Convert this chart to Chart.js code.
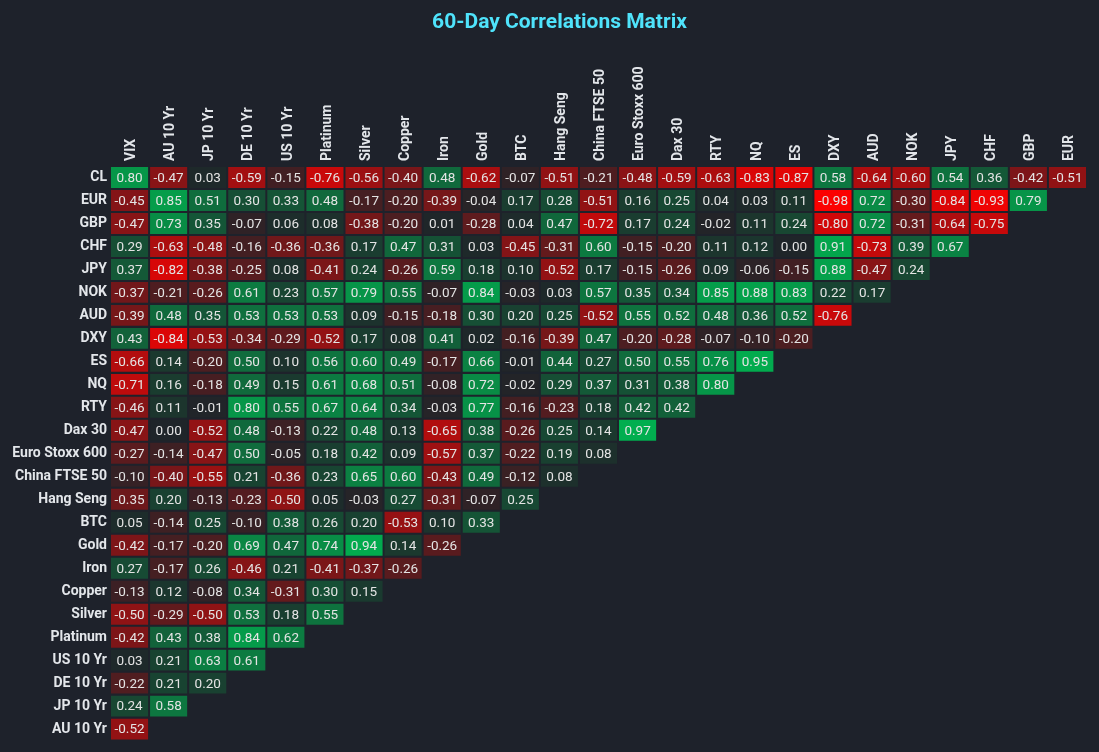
<!DOCTYPE html>
<html>
<head>
<meta charset="utf-8">
<title>60-Day Correlations Matrix</title>
<script src="https://cdn.jsdelivr.net/npm/chart.js@4.4.0/dist/chart.umd.min.js"></script>
<style>
  html, body { margin: 0; padding: 0; background: #1e222b; }
  #wrap { width: 1099px; height: 752px; position: relative; }
</style>
</head>
<body>
<div id="wrap"><canvas id="matrix"></canvas></div>
<script>
// column + row names
const columns = ['VIX', 'AU 10 Yr', 'JP 10 Yr', 'DE 10 Yr', 'US 10 Yr', 'Platinum', 'Silver', 'Copper', 'Iron', 'Gold', 'BTC', 'Hang Seng', 'China FTSE 50', 'Euro Stoxx 600', 'Dax 30', 'RTY', 'NQ', 'ES', 'DXY', 'AUD', 'NOK', 'JPY', 'CHF', 'GBP', 'EUR'];
const rows = ['CL', 'EUR', 'GBP', 'CHF', 'JPY', 'NOK', 'AUD', 'DXY', 'ES', 'NQ', 'RTY', 'Dax 30', 'Euro Stoxx 600', 'China FTSE 50', 'Hang Seng', 'BTC', 'Gold', 'Iron', 'Copper', 'Silver', 'Platinum', 'US 10 Yr', 'DE 10 Yr', 'JP 10 Yr', 'AU 10 Yr'];

// one array per row, read left to right
const cl = [0.80, -0.47, 0.03, -0.59, -0.15, -0.76, -0.56, -0.40, 0.48, -0.62, -0.07, -0.51, -0.21, -0.48, -0.59, -0.63, -0.83, -0.87, 0.58, -0.64, -0.60, 0.54, 0.36, -0.42, -0.51];
const eur = [-0.45, 0.85, 0.51, 0.30, 0.33, 0.48, -0.17, -0.20, -0.39, -0.04, 0.17, 0.28, -0.51, 0.16, 0.25, 0.04, 0.03, 0.11, -0.98, 0.72, -0.30, -0.84, -0.93, 0.79];
const gbp = [-0.47, 0.73, 0.35, -0.07, 0.06, 0.08, -0.38, -0.20, 0.01, -0.28, 0.04, 0.47, -0.72, 0.17, 0.24, -0.02, 0.11, 0.24, -0.80, 0.72, -0.31, -0.64, -0.75];
const chf = [0.29, -0.63, -0.48, -0.16, -0.36, -0.36, 0.17, 0.47, 0.31, 0.03, -0.45, -0.31, 0.60, -0.15, -0.20, 0.11, 0.12, 0.00, 0.91, -0.73, 0.39, 0.67];
const jpy = [0.37, -0.82, -0.38, -0.25, 0.08, -0.41, 0.24, -0.26, 0.59, 0.18, 0.10, -0.52, 0.17, -0.15, -0.26, 0.09, -0.06, -0.15, 0.88, -0.47, 0.24];
const nok = [-0.37, -0.21, -0.26, 0.61, 0.23, 0.57, 0.79, 0.55, -0.07, 0.84, -0.03, 0.03, 0.57, 0.35, 0.34, 0.85, 0.88, 0.83, 0.22, 0.17];
const aud = [-0.39, 0.48, 0.35, 0.53, 0.53, 0.53, 0.09, -0.15, -0.18, 0.30, 0.20, 0.25, -0.52, 0.55, 0.52, 0.48, 0.36, 0.52, -0.76];
const dxy = [0.43, -0.84, -0.53, -0.34, -0.29, -0.52, 0.17, 0.08, 0.41, 0.02, -0.16, -0.39, 0.47, -0.20, -0.28, -0.07, -0.10, -0.20];
const es = [-0.66, 0.14, -0.20, 0.50, 0.10, 0.56, 0.60, 0.49, -0.17, 0.66, -0.01, 0.44, 0.27, 0.50, 0.55, 0.76, 0.95];
const nq = [-0.71, 0.16, -0.18, 0.49, 0.15, 0.61, 0.68, 0.51, -0.08, 0.72, -0.02, 0.29, 0.37, 0.31, 0.38, 0.80];
const rty = [-0.46, 0.11, -0.01, 0.80, 0.55, 0.67, 0.64, 0.34, -0.03, 0.77, -0.16, -0.23, 0.18, 0.42, 0.42];
const dax30 = [-0.47, 0.00, -0.52, 0.48, -0.13, 0.22, 0.48, 0.13, -0.65, 0.38, -0.26, 0.25, 0.14, 0.97];
const stoxx600 = [-0.27, -0.14, -0.47, 0.50, -0.05, 0.18, 0.42, 0.09, -0.57, 0.37, -0.22, 0.19, 0.08];
const ftse50 = [-0.10, -0.40, -0.55, 0.21, -0.36, 0.23, 0.65, 0.60, -0.43, 0.49, -0.12, 0.08];
const hangSeng = [-0.35, 0.20, -0.13, -0.23, -0.50, 0.05, -0.03, 0.27, -0.31, -0.07, 0.25];
const btc = [0.05, -0.14, 0.25, -0.10, 0.38, 0.26, 0.20, -0.53, 0.10, 0.33];
const gold = [-0.42, -0.17, -0.20, 0.69, 0.47, 0.74, 0.94, 0.14, -0.26];
const iron = [0.27, -0.17, 0.26, -0.46, 0.21, -0.41, -0.37, -0.26];
const copper = [-0.13, 0.12, -0.08, 0.34, -0.31, 0.30, 0.15];
const silver = [-0.50, -0.29, -0.50, 0.53, 0.18, 0.55];
const platinum = [-0.42, 0.43, 0.38, 0.84, 0.62];
const us10 = [0.03, 0.21, 0.63, 0.61];
const de10 = [-0.22, 0.21, 0.20];
const jp10 = [0.24, 0.58];
const au10 = [-0.52];

const matrix = [cl, eur, gbp, chf, jpy, nok, aud, dxy, es, nq, rty, dax30, stoxx600, ftse50, hangSeng, btc, gold, iron, copper, silver, platinum, us10, de10, jp10, au10];

const chartTitle = '60-Day Correlations Matrix';

// red (-1) -> dark (0) -> green (+1)
const zeroCol = [31, 37, 41];
const posCol = [0, 178, 80];
const negCol = [255, 0, 0];
function cellColor(v) {
  const t = Math.min(Math.abs(v), 1);
  const end = v >= 0 ? posCol : negCol;
  const c = zeroCol.map((z, k) => Math.round(z + (end[k] - z) * t));
  return 'rgb(' + c.join(',') + ')';
}

const half = 0.455; // half a row, leaves a small gap

const datasets = matrix.map((vals, r) => ({
  label: rows[r],
  corr: vals,
  data: columns.map((_, c) => c < vals.length ? [r - half, r + half] : null),
  backgroundColor: columns.map((_, c) => c < vals.length ? cellColor(vals[c]) : 'transparent'),
  borderWidth: 0,
  borderSkipped: false,
  grouped: false,
  categoryPercentage: 1,
  barPercentage: 0.95
}));

const cellLabels = {
  id: 'cellLabels',
  afterDatasetsDraw(chart) {
    const ctx = chart.ctx;
    ctx.save();
    ctx.font = '13.5px Roboto';
    ctx.fillStyle = '#e4e4e4';
    ctx.textAlign = 'center';
    ctx.textBaseline = 'middle';
    chart.data.datasets.forEach((ds, i) => {
      chart.getDatasetMeta(i).data.forEach((bar, j) => {
        const v = ds.corr[j];
        if (v === undefined || v === null) return;
        const p = bar.getCenterPoint();
        ctx.fillText(v.toFixed(2), p.x, p.y + 1);
      });
    });
    ctx.restore();
  }
};

// title sits a bit right of the page centre, like the original
const titlePlugin = {
  id: 'topTitle',
  afterDraw(chart) {
    const ctx = chart.ctx;
    ctx.save();
    ctx.font = 'bold 21px Roboto';
    ctx.fillStyle = '#4fe3fb';
    ctx.textAlign = 'center';
    ctx.textBaseline = 'alphabetic';
    ctx.fillText(chartTitle, chart.width / 2 + 10, 28);
    ctx.restore();
  }
};

new Chart(document.getElementById('matrix'), {
  type: 'bar',
  data: { labels: columns, datasets: datasets },
  plugins: [cellLabels, titlePlugin],
  options: {
    responsive: true,
    maintainAspectRatio: false,
    animation: false,
    layout: { padding: { left: 0, right: 12, top: 44, bottom: 11 } },
    plugins: {
      legend: { display: false },
      tooltip: { enabled: false },
      title: { display: false }
    },
    scales: {
      x: {
        type: 'category',
        position: 'top',
        offset: true,
        grid: { display: false, drawTicks: false },
        border: { display: false },
        ticks: {
          color: '#e3e6ea',
          font: { family: 'Roboto', size: 14, weight: 'bold' },
          minRotation: 90,
          maxRotation: 90,
          autoSkip: false,
          labelOffset: 19,
          padding: 5
        },
        afterFit(scale) { scale.height = 122; }
      },
      y: {
        type: 'linear',
        reverse: true,
        min: -0.5,
        max: rows.length - 0.5,
        grid: { display: false, drawTicks: false },
        border: { display: false },
        afterBuildTicks(scale) {
          scale.ticks = rows.map((_, i) => ({ value: i }));
        },
        ticks: {
          color: '#e3e6ea',
          font: { family: 'Roboto', size: 14, weight: 'bold' },
          padding: 3,
          callback: (v) => rows[v]
        },
        afterFit(scale) { scale.width = 110; }
      }
    }
  }
});
</script>
</body>
</html>
